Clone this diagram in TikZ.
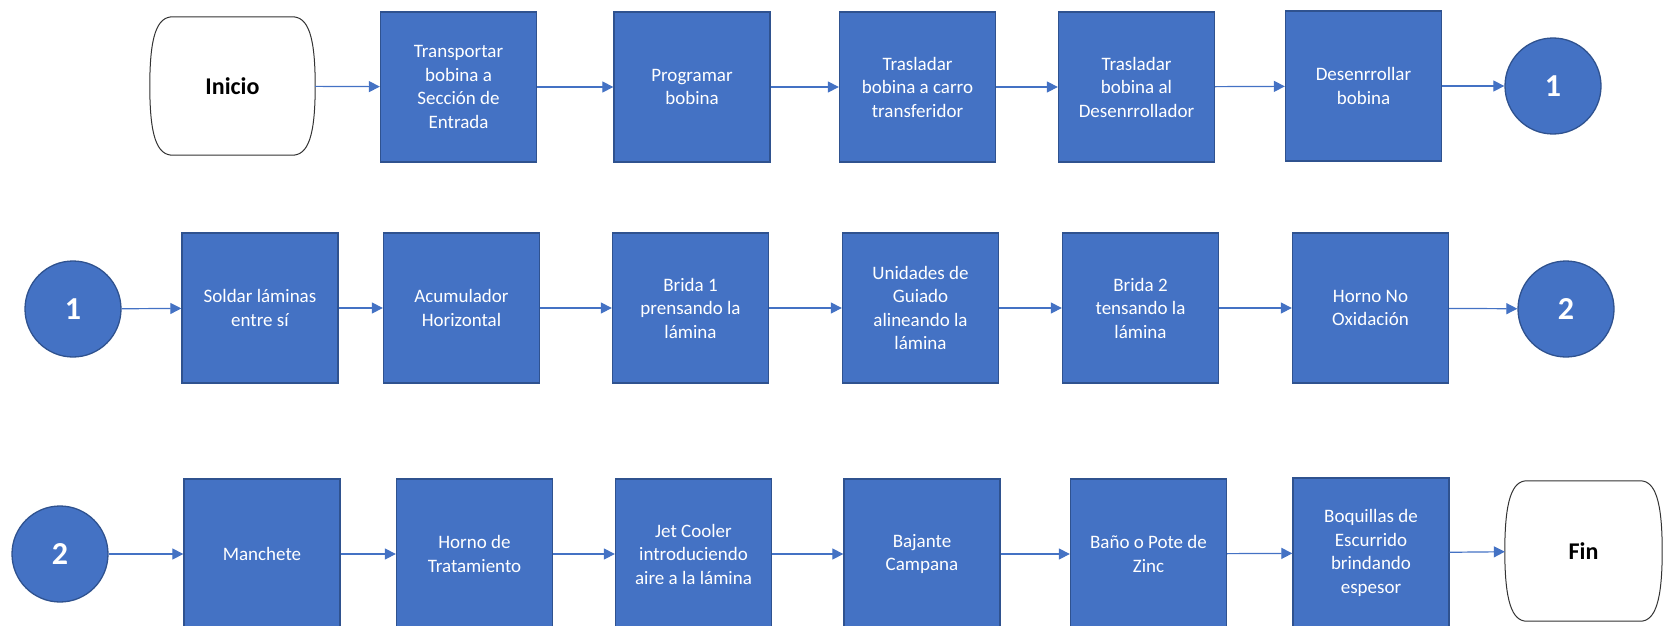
\documentclass[tikz,border=0pt]{standalone}
\usepackage{fontspec}
\setmainfont{Carlito}
\usetikzlibrary{arrows.meta,calc}
\definecolor{boxblue}{HTML}{4472C4}
\definecolor{boxedge}{HTML}{2F528F}

% terminator outline: straight top and bottom, bulging sides
\newcommand{\termoutline}[2]{%
  \draw[outline]
    ($(#1.north west)+(#2,0)$) -- ($(#1.north east)+(-#2,0)$)
    .. controls ($(#1.north east)+(-7,0)$) and ($(#1.east)+(0,-50)$) .. (#1.east)
    .. controls ($(#1.east)+(0,50)$) and ($(#1.south east)+(-7,0)$) .. ($(#1.south east)+(-#2,0)$)
    -- ($(#1.south west)+(#2,0)$)
    .. controls ($(#1.south west)+(7,0)$) and ($(#1.west)+(0,50)$) .. (#1.west)
    .. controls ($(#1.west)+(0,-50)$) and ($(#1.north west)+(7,0)$) .. cycle;}

\begin{document}
\begin{tikzpicture}[x=1pt,y=-1pt,
  stepbox/.style={rectangle, fill=boxblue, draw=boxedge, line width=1.3pt,
    minimum width=156pt, minimum height=150pt, text=white, align=center,
    font=\fontsize{19}{23.5}\selectfont, inner sep=2pt},
  link/.style={circle, fill=boxblue, draw=boxedge, line width=1.3pt,
    minimum size=96pt, text=white, inner sep=0pt,
    font=\fontsize{32}{36}\selectfont\bfseries},
  endpoint/.style={rectangle, minimum width=#1, minimum height=138pt,
    inner sep=0pt, font=\fontsize{24}{28}\selectfont\bfseries},
  flow/.style={draw=boxblue, line width=1.2pt,
    -{Triangle[length=11pt,width=11pt]}},
  outline/.style={draw=black!80, line width=1pt}
]
\useasboundingbox (0,0) rectangle (1665,626);
\clip (0,0) rectangle (1665,626);

% ---- first row ----
\node[endpoint=165pt] (ini) at (232.5,86) {Inicio};
\termoutline{ini}{23}
\node[stepbox] (a1) at (458.5,87) {Transportar\\bobina a\\Sección de\\Entrada};
\node[stepbox] (a2) at (692,87) {Programar\\bobina};
\node[stepbox] (a3) at (917.5,87) {Trasladar\\bobina a carro\\transferidor};
\node[stepbox] (a4) at (1136.5,87) {Trasladar\\bobina al\\Desenrrollador};
\node[stepbox] (a5) at (1363.5,86) {Desenrrollar\\bobina};
\node[link] (c1a) at (1553,86) {1};

\draw[flow] (ini) -- (a1);
\draw[flow] (a1) -- (a2);
\draw[flow] (a2) -- (a3);
\draw[flow] (a3) -- (a4);
\draw[flow] (a4) -- (a5);
\draw[flow] (a5) -- (c1a);

% ---- second row ----
\node[link] (c1b) at (73,309) {1};
\node[stepbox] (b1) at (260,308) {Soldar láminas\\entre sí};
\node[stepbox] (b2) at (461.5,308) {Acumulador\\Horizontal};
\node[stepbox] (b3) at (690.5,308) {Brida 1\\prensando la\\lámina};
\node[stepbox] (b4) at (920.5,308) {Unidades de\\Guiado\\alineando la\\lámina};
\node[stepbox] (b5) at (1140.5,308) {Brida 2\\tensando la\\lámina};
\node[stepbox] (b6) at (1370.5,308) {Horno No\\Oxidación};
\node[link] (c2a) at (1566,309) {2};

\draw[flow] (c1b) -- (b1);
\draw[flow] (b1) -- (b2);
\draw[flow] (b2) -- (b3);
\draw[flow] (b3) -- (b4);
\draw[flow] (b4) -- (b5);
\draw[flow] (b5) -- (b6);
\draw[flow] (b6) -- (c2a);

% ---- third row ----
\node[link] (c2b) at (60,554) {2};
\node[stepbox] (d1) at (262,554) {Manchete};
\node[stepbox] (d2) at (474.5,554) {Horno de\\Tratamiento};
\node[stepbox] (d3) at (693.5,554) {Jet Cooler\\introduciendo\\aire a la lámina};
\node[stepbox] (d4) at (922,554) {Bajante\\Campana};
\node[stepbox] (d5) at (1148.5,554) {Baño o Pote de\\Zinc};
\node[stepbox] (d6) at (1371,553) {Boquillas de\\Escurrido\\brindando\\espesor};
\node[endpoint=157pt, minimum height=140pt] (fin) at (1583.5,551) {Fin};
\termoutline{fin}{22}

\draw[flow] (c2b) -- (d1);
\draw[flow] (d1) -- (d2);
\draw[flow] (d2) -- (d3);
\draw[flow] (d3) -- (d4);
\draw[flow] (d4) -- (d5);
\draw[flow] (d5) -- (d6);
\draw[flow] (d6) -- (fin);
\end{tikzpicture}
\end{document}
